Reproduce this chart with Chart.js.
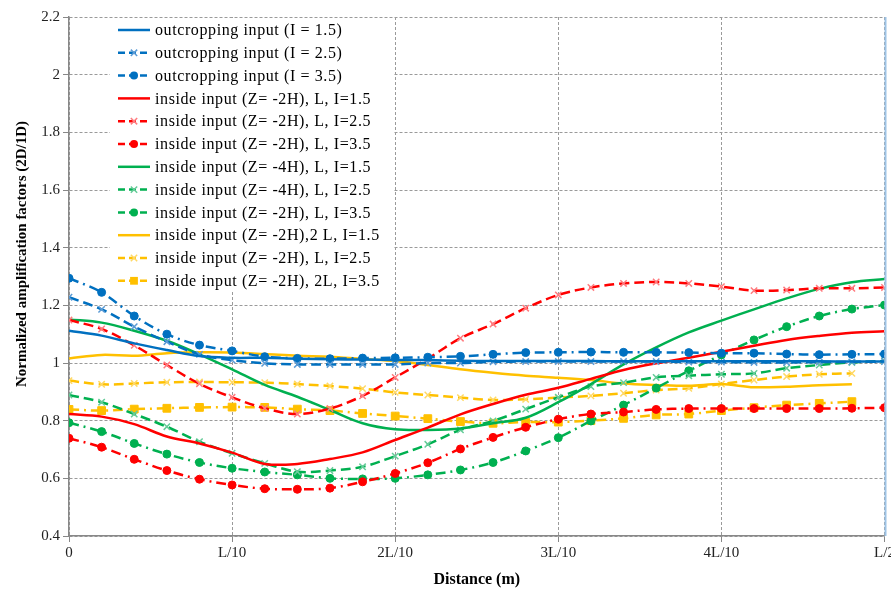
<!DOCTYPE html>
<html>
<head>
<meta charset="utf-8">
<script src="https://cdn.jsdelivr.net/npm/chart.js@4.4.1/dist/chart.umd.min.js"></script>
<style>
html,body{margin:0;padding:0;background:#fff;}
#wrap{width:891px;height:589px;}
</style>
</head>
<body>
<div id="wrap"><canvas id="grafamp" width="891" height="589"></canvas></div>
<script>
// distancia en pasos de L/50
var distancia = [0,1,2,3,4,5,6,7,8,9,10,11,12,13,14,15,16,17,18,19,20,21,22,23,24,25];
var xEtiquetas = ['0','L/10','2L/10','3L/10','4L/10','L/2'];
var yEtiquetas = ['0.4','0.6','0.8','1','1.2','1.4','1.6','1.8','2','2.2'];

var nombres = [
    'outcropping input (I = 1.5)',
    'outcropping input (I = 2.5)',
    'outcropping input (I = 3.5)',
    'inside input (Z= -2H), L, I=1.5',
    'inside input (Z= -2H), L, I=2.5',
    'inside input (Z= -2H), L, I=3.5',
    'inside input (Z= -4H), L, I=1.5',
    'inside input (Z= -4H), L, I=2.5',
    'inside input (Z= -2H), L, I=3.5',
    'inside input (Z= -2H),2 L, I=1.5',
    'inside input (Z= -2H), L, I=2.5',
    'inside input (Z= -2H), 2L, I=3.5'
];

var azul15 = [1.112,1.095,1.068,1.045,1.024,1.018,1.018,1.015,1.013,1.012,1.010,1.010,1.008,1.007,1.007,1.007,1.007,1.006,1.006,1.006,1.006,1.006,1.006,1.006,1.005,1.005];
var azul25 = [1.228,1.186,1.126,1.074,1.030,1.010,0.999,0.995,0.995,0.995,0.995,1.000,1.000,1.004,1.005,1.005,1.005,1.005,1.005,1.003,1.003,1.002,1.002,1.003,1.004,1.005];
var azul35 = [1.294,1.245,1.163,1.100,1.062,1.042,1.022,1.016,1.015,1.017,1.018,1.020,1.023,1.030,1.036,1.037,1.038,1.037,1.037,1.036,1.034,1.034,1.031,1.029,1.030,1.031];

var rojo15 = [0.823,0.814,0.788,0.745,0.721,0.689,0.650,0.650,0.667,0.690,0.733,0.776,0.822,0.858,0.890,0.914,0.945,0.976,0.999,1.018,1.039,1.060,1.080,1.094,1.105,1.110];
var rojo25 = [1.149,1.118,1.061,0.993,0.928,0.881,0.843,0.823,0.842,0.886,0.950,1.015,1.086,1.135,1.190,1.236,1.262,1.276,1.281,1.276,1.265,1.251,1.253,1.259,1.259,1.262];
var rojo35 = [0.739,0.708,0.666,0.627,0.597,0.577,0.564,0.562,0.566,0.588,0.617,0.654,0.702,0.742,0.777,0.805,0.823,0.830,0.839,0.842,0.842,0.842,0.842,0.842,0.843,0.845];

var verde15 = [1.151,1.140,1.112,1.077,1.030,0.978,0.924,0.883,0.837,0.791,0.770,0.768,0.773,0.791,0.810,0.864,0.927,0.995,1.054,1.106,1.147,1.186,1.224,1.257,1.280,1.291];
var verde25 = [0.889,0.864,0.823,0.779,0.727,0.687,0.652,0.623,0.627,0.640,0.677,0.718,0.768,0.799,0.840,0.881,0.918,0.932,0.950,0.956,0.961,0.964,0.982,0.993,1.002,1.007];
var verde35 = [0.793,0.762,0.721,0.684,0.655,0.635,0.622,0.612,0.600,0.598,0.600,0.612,0.629,0.655,0.695,0.741,0.799,0.854,0.913,0.973,1.028,1.080,1.126,1.163,1.187,1.201];

var amarillo15 = [1.016,1.028,1.025,1.034,1.037,1.036,1.031,1.025,1.022,1.014,1.007,0.993,0.978,0.966,0.956,0.949,0.941,0.929,0.924,0.921,0.927,0.916,0.918,0.923,0.926];
var amarillo25 = [0.939,0.926,0.929,0.933,0.934,0.933,0.932,0.927,0.920,0.911,0.898,0.889,0.880,0.872,0.874,0.880,0.886,0.895,0.906,0.912,0.927,0.941,0.953,0.961,0.964];
var amarillo35 = [0.839,0.835,0.840,0.843,0.846,0.847,0.846,0.840,0.835,0.825,0.816,0.807,0.797,0.791,0.795,0.795,0.800,0.808,0.820,0.823,0.835,0.845,0.854,0.860,0.866];

var series = [azul15,azul25,azul35,rojo15,rojo25,rojo35,verde15,verde25,verde35,amarillo15,amarillo25,amarillo35];
var colores = ['#0070C0','#0070C0','#0070C0','#FF0000','#FF0000','#FF0000','#00B050','#00B050','#00B050','#FFC000','#FFC000','#FFC000'];
var coloresX = ['#5B9BD5','#5B9BD5','#5B9BD5','#FF7C80','#FF7C80','#FF7C80','#66CC99','#66CC99','#66CC99','#FFD966','#FFD966','#FFD966'];

var FUENTE = '"Liberation Serif", "Times New Roman", serif';

function estilo(i){
    var tipo = i % 3;
    if (tipo == 0) return {dash: [], punto: false, radio: 0, borde: colores[i]};
    if (tipo == 1) return {dash: [10,5], punto: 'crossRot', radio: 4.5, borde: coloresX[i]};
    var p = (i == 11) ? 'rect' : 'circle';
    return {dash: [10,5,2,5], punto: p, radio: (i == 11) ? 5.5 : 4, borde: colores[i]};
}

var datasets = [];
for (var i in series){
    var st = estilo(i);
    var pts = [];
    for (var k = 0; k < series[i].length; k++){
        pts.push({x: distancia[k], y: series[i][k]});
    }
    datasets.push({
        label: nombres[i],
        data: pts,
        borderColor: colores[i],
        backgroundColor: colores[i],
        borderWidth: 2.5,
        borderDash: st.dash,
        tension: 0.35,
        pointStyle: st.punto || 'circle',
        pointRadius: st.radio,
        pointBorderColor: st.borde,
        pointBackgroundColor: colores[i],
        pointBorderWidth: st.punto == 'crossRot' ? 1.5 : 1,
        fill: false
    });
}

function marcador(ctx, tipo, x, y, r, color, borde){
    ctx.save();
    ctx.setLineDash([]);
    ctx.fillStyle = color;
    ctx.strokeStyle = borde;
    if (tipo == 'circle'){
        ctx.beginPath(); ctx.arc(x, y, r, 0, Math.PI*2); ctx.fill();
    } else if (tipo == 'rect'){
        var s = r * Math.SQRT1_2;
        ctx.fillRect(x - s, y - s, 2*s, 2*s);
    } else if (tipo == 'crossRot'){
        var d = r * Math.SQRT1_2;
        ctx.lineWidth = 1.5;
        ctx.beginPath();
        ctx.moveTo(x-d, y-d); ctx.lineTo(x+d, y+d);
        ctx.moveTo(x-d, y+d); ctx.lineTo(x+d, y-d);
        ctx.stroke();
    }
    ctx.restore();
}

var leyenda = {
    id: 'leyenda',
    beforeDatasetsDraw: function(chart){
        var ctx = chart.ctx;
        ctx.save();
        ctx.fillStyle = '#fff';
        ctx.fillRect(110, 18, 284, 274);
        ctx.font = '16px ' + FUENTE;
        ctx.letterSpacing = '0.6px';
        ctx.textBaseline = 'middle';
        for (var i = 0; i < nombres.length; i++){
            var y = 30 + i * 22.8;
            var st = estilo(i);
            ctx.strokeStyle = colores[i];
            ctx.lineWidth = 2.5;
            ctx.setLineDash(st.dash.length ? [7,4] : []);
            ctx.beginPath(); ctx.moveTo(118, y); ctx.lineTo(150, y); ctx.stroke();
            if (st.punto) marcador(ctx, st.punto, 134, y, st.radio, colores[i], st.borde);
            ctx.setLineDash([]);
            ctx.fillStyle = '#000';
            ctx.fillText(nombres[i], 155, y + 1);
        }
        ctx.restore();
    },
    afterDraw: function(chart){
        var ctx = chart.ctx, a = chart.chartArea;
        ctx.save();
        ctx.strokeStyle = '#9DC3E6';
        ctx.lineWidth = 2;
        ctx.beginPath(); ctx.moveTo(a.right + 1, a.top); ctx.lineTo(a.right + 1, a.bottom); ctx.stroke();
        ctx.fillStyle = '#000';
        ctx.textAlign = 'center';
        ctx.textBaseline = 'middle';
        ctx.font = 'bold 16px ' + FUENTE;
        ctx.fillText('Distance (m)', (a.left + a.right) / 2, 580);
        ctx.font = 'bold 15px ' + FUENTE;
        ctx.translate(22, 254);
        ctx.rotate(-Math.PI / 2);
        ctx.fillText('Normalized amplification factors (2D/1D)', 0, 0);
        ctx.restore();
    }
};

var grafico = new Chart(document.getElementById('grafamp'), {
    type: 'line',
    data: {datasets: datasets},
    options: {
        responsive: false,
        animation: false,
        devicePixelRatio: 1,
        layout: {padding: {left: 0, right: 4, top: 17, bottom: 0}},
        plugins: {legend: {display: false}, tooltip: {enabled: false}},
        scales: {
            x: {
                type: 'linear', min: 0, max: 25,
                afterFit: function(s){ s.height = 53; s.paddingLeft = 0; s.paddingRight = 0; },
                afterBuildTicks: function(s){ s.ticks = xEtiquetas.map(function(t, j){ return {value: j * 5}; }); },
                ticks: {
                    autoSkip: false, maxRotation: 0, padding: 2, color: '#222',
                    font: {family: FUENTE, size: 15},
                    callback: function(v){ return xEtiquetas[Math.round(v / 5)]; }
                },
                grid: {color: '#9a9a9a', tickColor: '#888', tickLength: 6, lineWidth: 1},
                border: {display: true, color: '#888', width: 1.5, dash: [3,2]}
            },
            y: {
                min: 0.4, max: 2.2,
                afterFit: function(s){ s.width = 69; s.paddingTop = 0; s.paddingBottom = 0; },
                afterBuildTicks: function(s){ s.ticks = yEtiquetas.map(function(t){ return {value: parseFloat(t)}; }); },
                ticks: {
                    padding: 3, color: '#222',
                    font: {family: FUENTE, size: 15},
                    callback: function(v, j){ return yEtiquetas[j]; }
                },
                grid: {color: '#9a9a9a', tickColor: '#888', tickLength: 6, lineWidth: 1},
                border: {display: true, color: '#888', width: 1.5, dash: [3,2]}
            }
        }
    },
    plugins: [leyenda]
});
</script>
</body>
</html>
